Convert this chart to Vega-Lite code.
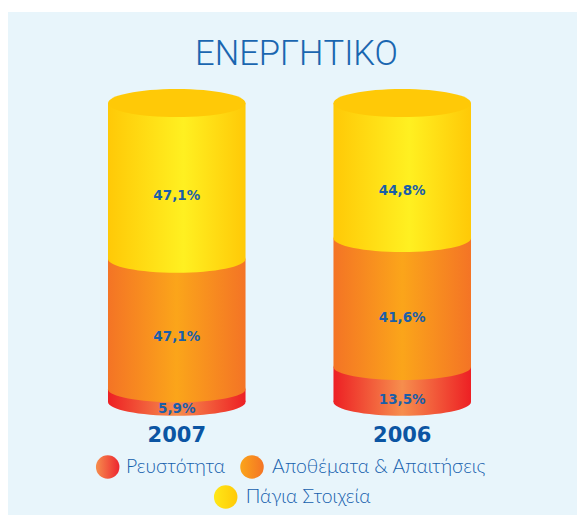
{
"$schema":"https://vega.github.io/schema/vega-lite/v6.json",
"width":569,"height":503,
"autosize":"none",
"padding":{"left":8,"top":12,"right":0,"bottom":0},
"background":"#ffffff",
"view":{"fill":"#e8f5fb","stroke":null},
"title":{"text":"ΕΝΕΡΓΗΤΙΚΟ","anchor":"middle","offset":-60,"dx":4,"font":"Roboto","fontWeight":300,"fontSize":34.5,"color":"#1a66b0"},
"config":{"font":"DejaVu Sans"},
"datasets":{
"segments":[
{"year":"2007","series":"Ρευστότητα","start":0,"end":4.3,"label":"5,9%","labelPos":-2.3},
{"year":"2007","series":"Αποθέματα & Απαιτήσεις","start":4.3,"end":47.8,"label":"47,1%","labelPos":21.9},
{"year":"2007","series":"Πάγια Στοιχεία","start":47.8,"end":100,"label":"47,1%","labelPos":68.9},
{"year":"2006","series":"Ρευστότητα","start":0,"end":11.7,"label":"13,5%","labelPos":0.7},
{"year":"2006","series":"Αποθέματα & Απαιτήσεις","start":11.7,"end":54.8,"label":"41,6%","labelPos":28.0},
{"year":"2006","series":"Πάγια Στοιχεία","start":54.8,"end":100,"label":"44,8%","labelPos":70.7}
],
"legend":[
{"series":"Ρευστότητα","key":17.52,"text":20.74,"row":-21.74},
{"series":"Αποθέματα & Απαιτήσεις","key":42.88,"text":46.4,"row":-21.74},
{"series":"Πάγια Στοιχεία","key":38.26,"text":41.77,"row":-31.77}
]},
"data":{"name":"segments"},
"encoding":{
"y":{"type":"quantitative","scale":{"domain":[-37.79,130.43],"nice":false,"zero":false},"axis":null}
},
"layer":[
{"encoding":{
"x":{"field":"year","type":"nominal","sort":["2007","2006"],"scale":{"type":"band","domain":["2007","2006"],"range":[100,463],"paddingInner":0.39,"paddingOuter":0},
"axis":{"title":null,"labelAngle":0,"domain":false,"ticks":false,"offset":-95,"labelPadding":4,"labelFont":"DejaVu Sans","labelFontWeight":"bold","labelFontSize":21,"labelColor":"#0b55a3"}}
},
"layer":[
{"transform":[{"filter":"datum.series==='Ρευστότητα'"}],"mark":{"type":"bar","color":{"gradient":"linear","x1":0,"x2":1,"y1":0,"y2":0,"stops":[{"offset":0,"color":"#ed2024"},{"offset":0.5,"color":"#f68e4d"},{"offset":1,"color":"#ed2024"}]}},"encoding":{"y":{"field":"start","type":"quantitative"},"y2":{"field":"end"}}},
{"transform":[{"filter":"datum.series==='Ρευστότητα'"}],"mark":{"type":"point","filled":true,"opacity":1,"size":18906,"shape":"M-1,0A1,0.2,0,1,1,1,0A1,0.2,0,1,1,-1,0Z","fill":{"gradient":"linear","x1":0,"x2":1,"y1":0,"y2":0,"stops":[{"offset":0,"color":"#ed2024"},{"offset":0.5,"color":"#f68e4d"},{"offset":1,"color":"#ed2024"}]}},"encoding":{"y":{"field":"start","type":"quantitative"}}},
{"transform":[{"filter":"datum.series==='Αποθέματα & Απαιτήσεις'"}],"mark":{"type":"bar","color":{"gradient":"linear","x1":0,"x2":1,"y1":0,"y2":0,"stops":[{"offset":0,"color":"#f47425"},{"offset":0.5,"color":"#fba51a"},{"offset":1,"color":"#f47425"}]}},"encoding":{"y":{"field":"start","type":"quantitative"},"y2":{"field":"end"}}},
{"transform":[{"filter":"datum.series==='Αποθέματα & Απαιτήσεις'"}],"mark":{"type":"point","filled":true,"opacity":1,"size":18906,"shape":"M-1,0A1,0.19,0,1,1,1,0A1,0.19,0,1,1,-1,0Z","fill":{"gradient":"linear","x1":0,"x2":1,"y1":0,"y2":0,"stops":[{"offset":0,"color":"#f47425"},{"offset":0.5,"color":"#fba51a"},{"offset":1,"color":"#f47425"}]}},"encoding":{"y":{"field":"start","type":"quantitative"}}},
{"transform":[{"filter":"datum.series==='Πάγια Στοιχεία'"}],"mark":{"type":"bar","color":{"gradient":"linear","x1":0,"x2":1,"y1":0,"y2":0,"stops":[{"offset":0,"color":"#ffc907"},{"offset":0.55,"color":"#fff021"},{"offset":1,"color":"#ffc907"}]}},"encoding":{"y":{"field":"start","type":"quantitative"},"y2":{"field":"end"}}},
{"transform":[{"filter":"datum.series==='Πάγια Στοιχεία'"}],"mark":{"type":"point","filled":true,"opacity":1,"size":18906,"shape":"M-1,0A1,0.2,0,1,1,1,0A1,0.2,0,1,1,-1,0Z","fill":{"gradient":"linear","x1":0,"x2":1,"y1":0,"y2":0,"stops":[{"offset":0,"color":"#ffc907"},{"offset":0.55,"color":"#fff021"},{"offset":1,"color":"#ffc907"}]}},"encoding":{"y":{"field":"start","type":"quantitative"}}},
{"transform":[{"filter":"datum.series==='Πάγια Στοιχεία'"}],"mark":{"type":"point","filled":true,"opacity":1,"size":18906,"shape":"M-1,0A1,0.205,0,1,1,1,0A1,0.205,0,1,1,-1,0Z","fill":"#ffc907"},"encoding":{"y":{"field":"end","type":"quantitative"}}},
{"mark":{"type":"text","font":"DejaVu Sans","fontWeight":"bold","fontSize":13.5,"color":"#1a5fa8"},"encoding":{"y":{"field":"labelPos","type":"quantitative"},"text":{"field":"label"}}}
]},
{"data":{"name":"legend"},
"encoding":{"y":{"field":"row","type":"quantitative"}},
"layer":[
{"transform":[{"filter":"datum.series==='Ρευστότητα'"}],"mark":{"type":"point","filled":true,"opacity":1,"size":552,"shape":"circle","fill":{"gradient":"linear","x1":0,"x2":1,"y1":0,"y2":0,"stops":[{"offset":0,"color":"#f68e4d"},{"offset":1,"color":"#ed2530"}]}},"encoding":{"x":{"field":"key","type":"quantitative","scale":{"domain":[0,100],"nice":false},"axis":null}}},
{"transform":[{"filter":"datum.series==='Αποθέματα & Απαιτήσεις'"}],"mark":{"type":"point","filled":true,"opacity":1,"size":552,"shape":"circle","fill":{"gradient":"linear","x1":0,"x2":1,"y1":0,"y2":0,"stops":[{"offset":0,"color":"#fba51a"},{"offset":1,"color":"#f47425"}]}},"encoding":{"x":{"field":"key","type":"quantitative","scale":{"domain":[0,100],"nice":false},"axis":null}}},
{"transform":[{"filter":"datum.series==='Πάγια Στοιχεία'"}],"mark":{"type":"point","filled":true,"opacity":1,"size":552,"shape":"circle","fill":{"gradient":"linear","x1":0,"x2":1,"y1":0,"y2":0,"stops":[{"offset":0,"color":"#ffe818"},{"offset":1,"color":"#ffc907"}]}},"encoding":{"x":{"field":"key","type":"quantitative","scale":{"domain":[0,100],"nice":false},"axis":null}}},
{"mark":{"type":"text","align":"left","font":"Lato","fontWeight":300,"fontSize":19.4,"color":"#1560ad"},"encoding":{"x":{"field":"text","type":"quantitative","scale":{"domain":[0,100],"nice":false},"axis":null},"text":{"field":"series"}}}
]}
],
"resolve":{"scale":{"x":"independent"}}
}
